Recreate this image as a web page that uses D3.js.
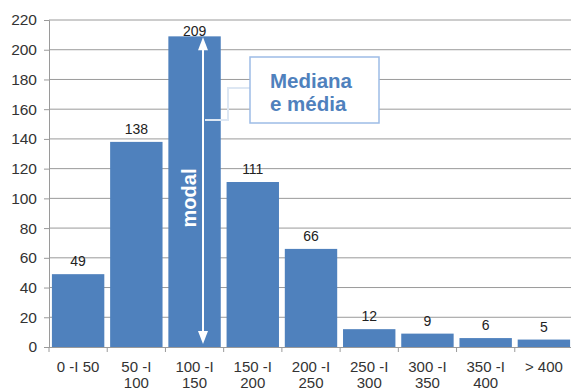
<!DOCTYPE html>
<html>
<head>
<meta charset="utf-8">
<script src="https://cdn.jsdelivr.net/npm/d3@7"></script>
<style>
  html, body { margin: 0; padding: 0; background: #fff; }
  svg { display: block; font-family: "Liberation Sans", Arial, sans-serif; }
</style>
</head>
<body>
<svg id="chart" width="571" height="390"></svg>
<script>
// Frequency by class interval
const categories = ["0 -I 50", "50 -I 100", "100 -I 150", "150 -I 200", "200 -I 250", "250 -I 300", "300 -I 350", "350 -I 400", "> 400"];
const categoryLines = [["0 -I 50"], ["50 -I", "100"], ["100 -I", "150"], ["150 -I", "200"], ["200 -I", "250"], ["250 -I", "300"], ["300 -I", "350"], ["350 -I", "400"], ["> 400"]];
const values = [49, 138, 209, 111, 66, 12, 9, 6, 5];
const yTicks = [0, 20, 40, 60, 80, 100, 120, 140, 160, 180, 200, 220];

const svg = d3.select("#chart");
const plotLeft = 49, plotRight = 573, plotTop = 20, plotBottom = 347;
const barColor = "#4f81bd";

const x = d3.scaleBand().domain(categories).range([plotLeft, plotRight]).paddingInner(0.1).paddingOuter(0.05);
const y = d3.scaleLinear().domain([0, 220]).range([plotBottom, plotTop]);

// gridlines
svg.append("g").selectAll("line").data(yTicks.filter(d => d > 0)).join("line")
  .attr("x1", plotLeft).attr("x2", 571)
  .attr("y1", d => y(d)).attr("y2", d => y(d))
  .attr("stroke", "#9a9a9a").attr("stroke-width", 1);

// y axis
const yAxis = svg.append("g").attr("transform", `translate(${plotLeft},0)`)
  .call(d3.axisLeft(y).tickValues(yTicks).tickSize(5).tickPadding(7));
yAxis.select(".domain").attr("stroke", "#9a9a9a");
yAxis.selectAll(".tick line").attr("stroke", "#9a9a9a");
yAxis.selectAll(".tick text").attr("font-size", 15.5).attr("fill", "#333").attr("font-family", "Liberation Sans, Arial, sans-serif");

// bars
svg.append("g").selectAll("rect").data(values).join("rect")
  .attr("x", (d, i) => x(categories[i]))
  .attr("width", x.bandwidth())
  .attr("y", d => y(d))
  .attr("height", d => y(0) - y(d))
  .attr("fill", barColor);

// x axis
const step = x.step();
const boundaries = d3.range(categories.length + 1).map(i => plotLeft + i * step);
svg.append("line").attr("x1", plotLeft).attr("x2", 571).attr("y1", plotBottom + 0.5).attr("y2", plotBottom + 0.5).attr("stroke", "#9a9a9a");
svg.append("g").selectAll("line").data(boundaries).join("line")
  .attr("x1", d => d).attr("x2", d => d).attr("y1", plotBottom).attr("y2", plotBottom + 5)
  .attr("stroke", "#9a9a9a");

const xl = svg.append("g").selectAll("text").data(categoryLines).join("text")
  .attr("x", (d, i) => x(categories[i]) + x.bandwidth() / 2)
  .attr("y", 372)
  .attr("text-anchor", "middle")
  .attr("font-size", 15).attr("fill", "#333");
xl.each(function(lines) {
  const t = d3.select(this);
  lines.forEach((ln, k) => t.append("tspan").attr("x", t.attr("x")).attr("dy", k === 0 ? 0 : 16).text(ln));
});

// value labels
svg.append("g").selectAll("text").data(values).join("text")
  .attr("x", (d, i) => x(categories[i]) + x.bandwidth() / 2)
  .attr("y", d => Math.max(y(d) - 8, 36))
  .attr("text-anchor", "middle")
  .attr("font-size", 14).attr("fill", "#222")
  .text(d => d);

// double-headed arrow on the modal class
const ax = 203;
const aTop = y(values[2]) + 1, aBot = plotBottom - 3;
svg.append("line").attr("x1", ax).attr("x2", ax).attr("y1", aTop + 10).attr("y2", aBot - 10)
  .attr("stroke", "#fff").attr("stroke-width", 2);
svg.append("path").attr("d", `M${ax},${aTop} L${ax - 5},${aTop + 13} L${ax + 5},${aTop + 13} Z`).attr("fill", "#fff");
svg.append("path").attr("d", `M${ax},${aBot} L${ax - 5},${aBot - 13} L${ax + 5},${aBot - 13} Z`).attr("fill", "#fff");

svg.append("text")
  .attr("transform", `translate(196,198) rotate(-90)`)
  .attr("text-anchor", "middle")
  .attr("font-size", 20).attr("font-weight", "bold").attr("fill", "#fff")
  .text("modal");

// callout
svg.append("path")
  .attr("d", `M250,88 H228 V120 H205`)
  .attr("fill", "none").attr("stroke", "#dde7f3").attr("stroke-width", 2);
svg.append("rect").attr("x", 250).attr("y", 57).attr("width", 129).attr("height", 66)
  .attr("fill", "#fff").attr("stroke", "#9dbce6").attr("stroke-width", 1.5);
svg.append("text").attr("x", 270).attr("y", 88)
  .attr("font-size", 20.5).attr("font-weight", "bold").attr("fill", barColor).text("Mediana");
svg.append("text").attr("x", 270).attr("y", 111)
  .attr("font-size", 20.5).attr("font-weight", "bold").attr("fill", barColor).text("e média");
</script>
</body>
</html>
